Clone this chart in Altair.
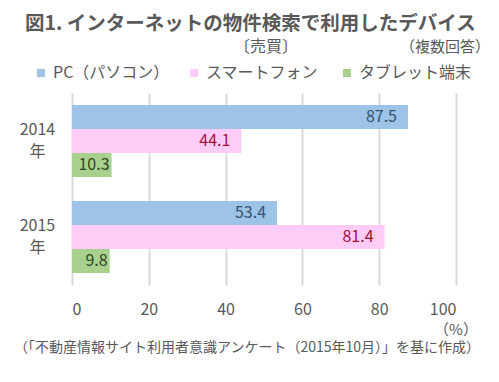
import altair as alt
import pandas as pd

years = ["2014年", "2015年"]
series = ["PC（パソコン）", "スマートフォン", "タブレット端末"]
pc = [87.5, 53.4]
smart = [44.1, 81.4]
tablet = [10.3, 9.8]
x_ticks = [0, 20, 40, 60, 80, 100]

bar_colors = ["#9DC3E6", "#FFCCF8", "#A9D18E"]
label_colors = ["#35506E", "#A0103C", "#2E4620"]
FONT = "Noto Sans CJK JP"
GRAY = "#595959"

rows = []
for i, y in enumerate(years):
    for s, vals in zip(series, [pc, smart, tablet]):
        rows.append({"year": y, "series": s, "value": vals[i]})
df = pd.DataFrame(rows)

base = alt.Chart(df).encode(
    y=alt.Y("year:N", sort=years, title=None,
            scale=alt.Scale(paddingInner=0, paddingOuter=0),
            axis=alt.Axis(labelExpr="[slice(datum.label,0,4), '年']",
                          labelAlign="center", labelPadding=35, tickSize=0, ticks=False,
                          domain=False, labelFontSize=16, labelColor=GRAY,
                          labelFont=FONT, labelLineHeight=22, labelBaseline="middle",
                          labelOffset=-11)),
    yOffset=alt.YOffset("series:N", sort=series,
                        scale=alt.Scale(paddingInner=0, paddingOuter=0.5)),
)

bars = base.mark_bar().encode(
    x=alt.X("value:Q", title=None,
            scale=alt.Scale(domain=[0, 100], nice=False),
            axis=alt.Axis(values=x_ticks, grid=True, gridColor="#D9D9D9", gridWidth=2,
                          domain=False, ticks=False, labelFontSize=16, labelColor=GRAY,
                          labelFont=FONT, labelPadding=16)),
    color=alt.Color("series:N", sort=series,
                    scale=alt.Scale(domain=series, range=bar_colors),
                    legend=alt.Legend(title=None, orient="none", legendX=-39, legendY=-28,
                                      direction="horizontal", symbolType="square",
                                      symbolSize=64, symbolStrokeWidth=0,
                                      labelFontSize=16, labelColor=GRAY, labelFont=FONT,
                                      labelOffset=4, columnPadding=16, gridAlign="all")),
)

def labels(cond, dx):
    return base.transform_filter(cond).mark_text(
        align="right", baseline="middle", dx=dx, fontSize=16, font=FONT
    ).encode(
        x=alt.X("value:Q"),
        text=alt.Text("value:Q", format=".1f"),
        color=alt.Color("series:N", scale=alt.Scale(domain=series, range=label_colors),
                        legend=None),
    )

lab_big = labels("datum.value >= 20", -11)
lab_small = labels("datum.value < 20", -2)

def note(text, x, y, size, align="left", weight="normal"):
    return alt.Chart(pd.DataFrame({"t": [text]})).mark_text(
        align=align, baseline="middle", fontSize=size, font=FONT, color=GRAY,
        fontWeight=weight
    ).encode(text="t:N", x=alt.value(x), y=alt.value(y))

t_sub1 = note("〔売買〕", 194, -46, 16, "center")
t_sub2 = note("（複数回答）", 418, -46, 15, "right")
t_pct = note("（%）", 384, 237, 15, "center")
t_src = note("（「不動産情報サイト利用者意識アンケート（2015年10月）」を基に作成）", 175, 255, 14, "center")

chart = alt.layer(bars, lab_big, lab_small, t_sub1, t_sub2, t_pct, t_src).resolve_scale(
    color="independent"
).properties(
    width=384, height=192,
    autosize=alt.AutoSizeParams(type="none"),
    padding={"left": 64, "top": 85, "right": 35, "bottom": 80},
    title=alt.TitleParams("図1. インターネットの物件検索で利用したデバイス",
                          anchor="start", frame="group", dx=-47, fontSize=19.5,
                          font=FONT, fontWeight="bold", color=GRAY, offset=5),
).configure_view(stroke=None)

chart.save("out.html", embed_options={"renderer": "svg", "actions": False})
